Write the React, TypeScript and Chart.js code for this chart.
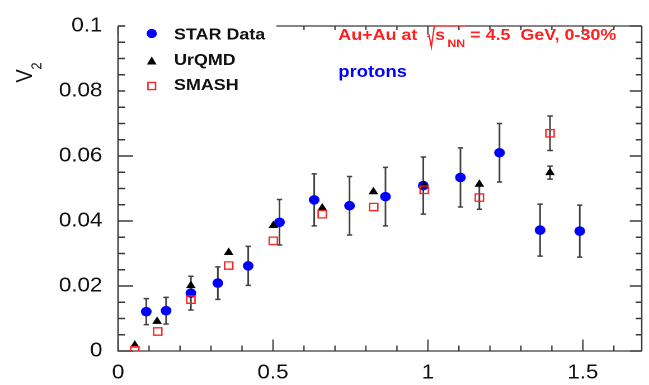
import React, { useEffect, useRef } from 'react';
import { Chart, registerables } from 'chart.js';

Chart.register(...registerables);

// ---------- data ----------
const xTickValues = [0, 0.5, 1, 1.5];
const yTickValues = [0, 0.02, 0.04, 0.06, 0.08, 0.1];
const xMinorStep = 0.1;
const yMinorStep = 0.005;

const starPt = [0.091, 0.155, 0.235, 0.322, 0.42, 0.521, 0.633, 0.747, 0.863, 0.985, 1.105, 1.231, 1.362, 1.49];
const starV2 = [0.0121, 0.0124, 0.0178, 0.0209, 0.0262, 0.0396, 0.0465, 0.0447, 0.0475, 0.0509, 0.0534, 0.061, 0.0372, 0.0369];
const starErr = [0.004, 0.0041, 0.0052, 0.005, 0.006, 0.007, 0.008, 0.009, 0.009, 0.0088, 0.0091, 0.009, 0.008, 0.008];

const urqmdPt = [0.054, 0.126, 0.235, 0.357, 0.501, 0.659, 0.824, 0.988, 1.166, 1.394];
const urqmdV2 = [0.0018, 0.0091, 0.0201, 0.0303, 0.0386, 0.044, 0.049, 0.0509, 0.0513, 0.0549];
const urqmdErr = [0, 0, 0, 0, 0, 0, 0, 0, 0, 0.002];

const smashPt = [0.054, 0.128, 0.235, 0.357, 0.501, 0.659, 0.825, 0.988, 1.166, 1.394];
const smashV2 = [0.0002, 0.006, 0.0158, 0.0263, 0.0339, 0.0421, 0.0443, 0.0496, 0.0472, 0.067];
const smashErr = [0, 0, 0, 0, 0, 0, 0, 0, 0.0036, 0.0053];

const seriesNames = ['STAR Data', 'UrQMD', 'SMASH'];
const titleText = 'Au+Au at ';
const titleRest = ' = 4.5  GeV, 0-30%';
const particleText = 'protons';

// ---------- layout / style ----------
const W = 649;
const H = 385;
const CW = 580; // canvas drawing width, stretched horizontally to W
const FONT = '"Liberation Sans", Arial, Helvetica, sans-serif';
const BLUE = '#0000ff';
const RED = '#ff2020';
const AXIS = '#3a3a3a';

const errorSets = [
  { pt: starPt, v: starV2, e: starErr },
  { pt: urqmdPt, v: urqmdV2, e: urqmdErr },
  { pt: smashPt, v: smashV2, e: smashErr },
];

const isMajor = (v: number, list: number[]) => list.some((t) => Math.abs(t - v) < 1e-6);

const framePlugin = {
  id: 'framePlugin',
  beforeDatasetsDraw(chart: any) {
    const { ctx, chartArea: a, scales } = chart;
    const xs = scales.x;
    const ys = scales.y;
    ctx.save();
    // frame
    ctx.strokeStyle = AXIS;
    ctx.lineWidth = 1.3;
    ctx.beginPath();
    ctx.moveTo(a.left, a.top);
    ctx.lineTo(a.right, a.top);
    ctx.moveTo(a.left, a.top);
    ctx.lineTo(a.left, a.bottom);
    ctx.lineTo(a.right, a.bottom);
    ctx.moveTo(a.right, a.top);
    ctx.lineTo(a.right, a.bottom);
    ctx.stroke();

    // x ticks (bottom + top), inward
    ctx.lineWidth = 1.2;
    ctx.beginPath();
    const nx = Math.round((xs.max - xs.min) / xMinorStep);
    for (let i = 0; i <= nx; i++) {
      const v = Math.round((xs.min + i * xMinorStep) * 1000) / 1000;
      if (v > xs.max + 1e-9) break;
      const px = xs.getPixelForValue(v);
      const maj = isMajor(v, xTickValues);
      ctx.moveTo(px, a.bottom);
      ctx.lineTo(px, a.bottom - (maj ? 11.5 : 5.5));
      ctx.moveTo(px, a.top);
      ctx.lineTo(px, a.top + (maj ? 8.7 : 4));
    }
    ctx.stroke();

    // y ticks (left + right), inward
    ctx.lineWidth = 1.4;
    ctx.beginPath();
    const ny = Math.round((ys.max - ys.min) / yMinorStep);
    for (let i = 0; i <= ny; i++) {
      const v = Math.round((ys.min + i * yMinorStep) * 10000) / 10000;
      const py = ys.getPixelForValue(v);
      const maj = isMajor(v, yTickValues);
      ctx.moveTo(a.left, py);
      ctx.lineTo(a.left + (maj ? 13.4 : 6.3), py);
      ctx.moveTo(a.right, py);
      ctx.lineTo(a.right - (maj ? 10.7 : 5.4), py);
    }
    ctx.stroke();

    // legend box (white fill, covers ticks like the original)
    ctx.fillStyle = '#ffffff';
    ctx.fillRect(a.left + 6.5, 22, 135, 78);

    // error bars
    ctx.strokeStyle = '#404040';
    ctx.lineWidth = 1.5;
    ctx.beginPath();
    for (const s of errorSets) {
      s.pt.forEach((x: number, i: number) => {
        const err = s.e[i];
        if (!err) return;
        const px = xs.getPixelForValue(x);
        const y1 = ys.getPixelForValue(s.v[i] + err);
        const y2 = ys.getPixelForValue(s.v[i] - err);
        ctx.moveTo(px, y1);
        ctx.lineTo(px, y2);
        ctx.moveTo(px - 2.4, y1);
        ctx.lineTo(px + 2.4, y1);
        ctx.moveTo(px - 2.4, y2);
        ctx.lineTo(px + 2.4, y2);
      });
    }
    ctx.stroke();
    ctx.restore();
  },
  afterDraw(chart: any) {
    const { ctx } = chart;
    ctx.save();
    // ---- legend ----
    const mx = 135.6;
    const tx = 155.5;
    ctx.font = `bold 16px ${FONT}`;
    ctx.fillStyle = '#111';
    ctx.textAlign = 'left';
    ctx.textBaseline = 'alphabetic';
    ctx.fillText(seriesNames[0], tx, 39.6);
    ctx.fillText(seriesNames[1], tx, 65);
    ctx.fillText(seriesNames[2], tx, 89.8);
    // markers
    ctx.fillStyle = BLUE;
    ctx.beginPath();
    ctx.arc(mx, 33.5, 4.6, 0, Math.PI * 2);
    ctx.fill();
    ctx.fillStyle = '#000';
    ctx.beginPath();
    ctx.moveTo(mx, 56.5);
    ctx.lineTo(mx + 4.3, 64.5);
    ctx.lineTo(mx - 4.3, 64.5);
    ctx.closePath();
    ctx.fill();
    ctx.strokeStyle = RED;
    ctx.lineWidth = 1.3;
    ctx.strokeRect(mx - 3.4, 82.4, 6.8, 7.2);

    // ---- annotation ----
    const x0 = 302.3;
    const base = 40;
    ctx.fillStyle = RED;
    ctx.font = `bold 16px ${FONT}`;
    ctx.fillText(titleText, x0, base);
    const rx = x0 + ctx.measureText(titleText).width + 3.5;
    const sx = rx + 8;
    ctx.fillText('s', sx, base);
    const nnx = sx + ctx.measureText('s').width + 2;
    ctx.font = `bold 11px ${FONT}`;
    ctx.fillText('NN', nnx, base + 7);
    const nnEnd = nnx + ctx.measureText('NN').width;
    ctx.strokeStyle = RED;
    ctx.lineWidth = 1.2;
    ctx.beginPath();
    ctx.moveTo(rx + 1, 37);
    ctx.lineTo(rx + 2.6, 35.5);
    ctx.lineTo(rx + 4.6, 47);
    ctx.lineTo(rx + 7.2, 26);
    ctx.lineTo(nnEnd + 0.5, 26);
    ctx.stroke();
    ctx.font = `bold 16px ${FONT}`;
    ctx.fillText(titleRest, nnEnd, base);

    ctx.fillStyle = BLUE;
    ctx.font = `bold 16.5px ${FONT}`;
    ctx.fillText(particleText, x0, 77);

    // ---- y axis title ----
    ctx.fillStyle = '#111';
    ctx.translate(23.2, 76);
    ctx.rotate(-Math.PI / 2);
    ctx.textAlign = 'center';
    ctx.textBaseline = 'middle';
    ctx.font = `20px ${FONT}`;
    ctx.fillText('V', 0, 0);
    ctx.font = `13px ${FONT}`;
    ctx.fillText('2', 10, 10.3);
    ctx.restore();
  },
};

export default function App() {
  const ref = useRef<HTMLCanvasElement>(null);
  useEffect(() => {
    const canvas = ref.current;
    if (!canvas) return;
    const chart = new Chart(canvas, {
      type: 'scatter',
      data: {
        datasets: [
          {
            label: seriesNames[0],
            data: starPt.map((x, i) => ({ x, y: starV2[i] })),
            pointStyle: 'circle',
            pointRadius: 4.8,
            backgroundColor: BLUE,
            borderColor: BLUE,
            borderWidth: 0,
            order: 3,
          },
          {
            label: seriesNames[1],
            data: urqmdPt.map((x, i) => ({ x, y: urqmdV2[i] })),
            pointStyle: 'triangle',
            pointRadius: 5,
            backgroundColor: '#000',
            borderColor: '#000',
            borderWidth: 0,
            order: 2,
          },
          {
            label: seriesNames[2],
            data: smashPt.map((x, i) => ({ x, y: smashV2[i] })),
            pointStyle: 'rect',
            pointRadius: 5.2,
            backgroundColor: 'rgba(0,0,0,0)',
            borderColor: RED,
            borderWidth: 1.3,
            order: 1,
          },
        ],
      },
      options: {
        responsive: false,
        animation: false,
        devicePixelRatio: 2,
        events: [],
        layout: { padding: { top: 12, right: 0, bottom: 0, left: 0 } },
        plugins: { legend: { display: false }, tooltip: { enabled: false } },
        scales: {
          x: {
            type: 'linear',
            min: 0,
            max: 1.69,
            grid: { display: false, drawTicks: false },
            border: { display: false },
            ticks: {
              font: { family: FONT, size: 20 },
              color: '#111',
              padding: 10,
              maxRotation: 0,
              autoSkip: false,
              includeBounds: false,
              callback: (v: any) => String(+Number(v).toFixed(3)),
            },
            afterBuildTicks: (s: any) => {
              s.ticks = xTickValues.map((value) => ({ value }));
            },
            afterFit: (s: any) => {
              s.height = 34;
            },
          },
          y: {
            type: 'linear',
            min: 0,
            max: 0.1,
            grid: { display: false, drawTicks: false },
            border: { display: false },
            ticks: {
              font: { family: FONT, size: 20 },
              color: '#111',
              padding: 14,
              autoSkip: false,
              includeBounds: false,
              callback: (v: any) => String(+Number(v).toFixed(4)),
            },
            afterBuildTicks: (s: any) => {
              s.ticks = yTickValues.map((value) => ({ value }));
            },
            afterFit: (s: any) => {
              s.width = 105.5;
            },
          },
        },
      },
      plugins: [framePlugin],
    } as any);
    return () => chart.destroy();
  }, []);

  return (
    <div style={{ position: 'absolute', left: 0, top: 0, width: W, height: H, overflow: 'hidden', background: '#fff' }}>
      <div style={{ width: CW, height: H, transform: `scaleX(${W / CW})`, transformOrigin: '0 0' }}>
        <canvas ref={ref} width={CW} height={H} style={{ display: 'block', width: CW, height: H }} />
      </div>
    </div>
  );
}
